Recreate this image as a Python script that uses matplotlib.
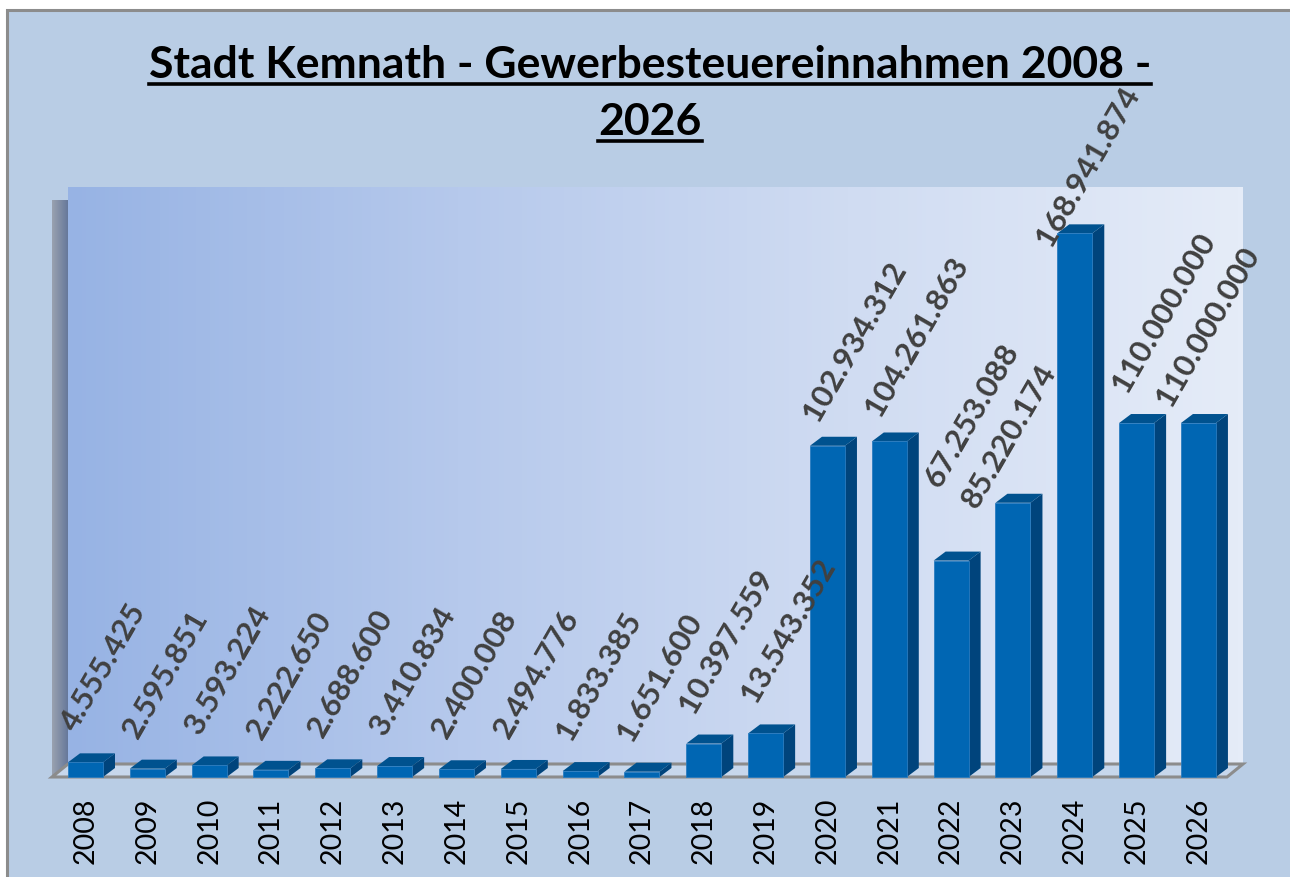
import numpy as np
import matplotlib
matplotlib.use("Agg")
import matplotlib.pyplot as plt
from matplotlib.patches import Polygon, Rectangle
from matplotlib.colors import LinearSegmentedColormap

# ---- data ----
years = ["2008", "2009", "2010", "2011", "2012", "2013", "2014", "2015", "2016", "2017",
         "2018", "2019", "2020", "2021", "2022", "2023", "2024", "2025", "2026"]
values = [4555425, 2595851, 3593224, 2222650, 2688600, 3410834, 2400008, 2494776, 1833385,
          1651600, 10397559, 13543352, 102934312, 104261863, 67253088, 85220174,
          168941874, 110000000, 110000000]
title_lines = ["Stadt Kemnath - Gewerbesteuereinnahmen 2008 -", "2026"]

# manual label nudges (pixels, like hand-moved labels in the original)
label_nudge = {12: (0, -6), 13: (0, -6), 14: (-2, 43), 15: (-27, -36), 16: (-14, -44),
               18: (-18, -14)}

def fmt(v):
    return f"{v:,}".replace(",", ".")

W, H = 1290, 877
DPI = 100
fig = plt.figure(figsize=(W / DPI, H / DPI), dpi=DPI)
fig.patch.set_facecolor("white")

# chart area background with gray border
bg = Rectangle((7 / W, -0.1), 1.1, 1.1 - 10 / H, transform=fig.transFigure,
               facecolor="#b9cde5", edgecolor="#8c8c8c", linewidth=2.2, zorder=-5)
fig.patches.append(bg)

# axes = front plane of the 3D plot
L, R, B, T = 52, 1227, 777, 200
ax = fig.add_axes([L / W, 1 - B / H, (R - L) / W, (B - T) / H])
ax.set_zorder(1)
ax.set_facecolor("none")
ax.axis("off")

px_per_cat = 61.83
x0 = 85.5
xl = (L - x0) / px_per_cat
xr = (R - x0) / px_per_cat
px_per_unit = 3.218e-6
ytop = (B - T) / px_per_unit

def dxu(px):
    return px / px_per_cat

def dyu(px):
    return px / px_per_unit

# walls
wdx, wdy = dxu(16), dyu(13)
grad = np.linspace(0, 1, 256).reshape(1, -1)
wall_cmap = LinearSegmentedColormap.from_list("wall", ["#97b3e4", "#b6c9ec", "#d0dcf2", "#e5ecf8"])
ax.imshow(grad, cmap=wall_cmap, aspect="auto",
          extent=[xl + wdx, xr + wdx, wdy, ytop + wdy], zorder=1, clip_on=False)

side_cmap = LinearSegmentedColormap.from_list("side", ["#9aa2b0", "#66789a"])
lw_poly = Polygon([(xl, 0), (xl, ytop), (xl + wdx, ytop + wdy), (xl + wdx, wdy)],
                  closed=True, facecolor="none", edgecolor="none", zorder=1.1, clip_on=False)
ax.add_patch(lw_poly)
im = ax.imshow(grad, cmap=side_cmap, aspect="auto",
               extent=[xl, xl + wdx, 0, ytop + wdy], zorder=1.1)
im.set_clip_path(lw_poly)

floor = Polygon([(xl, 0), (xr, 0), (xr + wdx, wdy), (xl + wdx, wdy)], closed=True,
                facecolor="#c7d7ec", edgecolor="#8c8c8c", linewidth=2.2, zorder=1.2,
                clip_on=False)
ax.add_patch(floor)

# bars
x = np.arange(len(years))
bw = 35 / px_per_cat
bdx, bdy = dxu(12), dyu(9)
ax.bar(x, values, width=bw, color="#0066b3", edgecolor="#2a7cc0", linewidth=0.6,
       zorder=3, clip_on=False)
for xi, v in zip(x, values):
    side = Polygon([(xi + bw / 2, 0), (xi + bw / 2 + bdx, bdy), (xi + bw / 2 + bdx, v + bdy),
                    (xi + bw / 2, v)], closed=True, facecolor="#00447c", edgecolor="none",
                   zorder=2.9, clip_on=False)
    top = Polygon([(xi - bw / 2, v), (xi + bw / 2, v), (xi + bw / 2 + bdx, v + bdy),
                   (xi - bw / 2 + bdx, v + bdy)], closed=True, facecolor="#00528f",
                  edgecolor="none", zorder=2.9, clip_on=False)
    ax.add_patch(side)
    ax.add_patch(top)

ax.set_xlim(xl, xr)
ax.set_ylim(0, ytop)

pt = 72 / DPI  # points per pixel
lab_font = ["Lato", "DejaVu Sans"]
for i, (xi, v) in enumerate(zip(x, values)):
    nx, ny = label_nudge.get(i, (0, 0))
    ax.annotate(fmt(v), xy=(xi - bw / 2, v), xytext=((8 + nx) * pt, (29 + ny) * pt),
                textcoords="offset points", rotation=60, rotation_mode="anchor",
                ha="left", va="baseline", fontsize=22.5, fontweight="bold",
                color="#404040", family=lab_font, zorder=5, annotation_clip=False)
    ax.annotate(years[i], xy=(xi, 0), xytext=(0, -21 * pt), textcoords="offset points",
                rotation=90, ha="center", va="top", fontsize=20.5, color="black",
                family=lab_font, annotation_clip=False)

# title with underline
renderer = fig.canvas.get_renderer()
ys = [78, 135]
for line, yb in zip(title_lines, ys):
    t = fig.text(650 / W, 1 - yb / H, line, ha="center", va="baseline", fontsize=32,
                 fontweight="bold", color="black", family=lab_font)
    bb = t.get_window_extent(renderer=renderer)
    uy = 1 - (yb + 6) / H
    fig.add_artist(plt.Line2D([bb.x0 / W, bb.x1 / W], [uy, uy], transform=fig.transFigure,
                              color="black", linewidth=2.6))

fig.savefig("out.png", dpi=DPI)
